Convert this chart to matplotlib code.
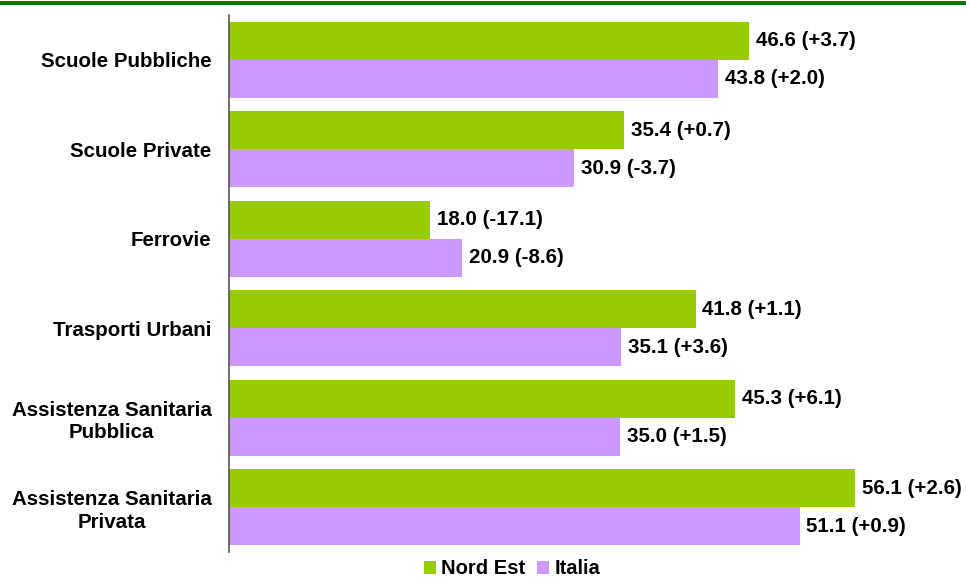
import numpy as np
import matplotlib.pyplot as plt
from matplotlib.patches import Rectangle

plt.rcParams['font.family'] = ['Liberation Sans', 'DejaVu Sans']

categorie = ['Scuole Pubbliche', 'Scuole Private', 'Ferrovie', 'Trasporti Urbani',
             'Assistenza Sanitaria\nPubblica', 'Assistenza Sanitaria\nPrivata']
nord_est = [46.6, 35.4, 18.0, 41.8, 45.3, 56.1]
nord_est_var = ['+3.7', '+0.7', '-17.1', '+1.1', '+6.1', '+2.6']
italia = [43.8, 30.9, 20.9, 35.1, 35.0, 51.1]
italia_var = ['+2.0', '-3.7', '-8.6', '+3.6', '+1.5', '+0.9']

fig = plt.figure(figsize=(9.66, 5.78), dpi=100)
ax = fig.add_axes([229 / 966, 26 / 578, 1 - 229 / 966, 537 / 578])

# banda verde in alto
fig.add_artist(Rectangle((0, 1 - 5 / 578), 1, 4 / 578, transform=fig.transFigure,
                         color='#007A00', lw=0))

y = np.arange(len(categorie))
h = 0.425
b1 = ax.barh(y - h / 2, nord_est, height=h, color='#99CC00', label='Nord Est')
b2 = ax.barh(y + h / 2, italia, height=h, color='#CC99FF', label='Italia')

for v, d, yy in zip(nord_est, nord_est_var, y - h / 2):
    ax.text(v + 0.6, yy, '%.1f (%s)' % (v, d), va='center', ha='left',
            fontsize=14.8, fontweight='bold')
for v, d, yy in zip(italia, italia_var, y + h / 2):
    ax.text(v + 0.6, yy, '%.1f (%s)' % (v, d), va='center', ha='left',
            fontsize=14.8, fontweight='bold')

ax.set_yticks(y)
ax.set_yticklabels(categorie, fontsize=14.8, fontweight='bold', ha='right',
                   multialignment='center', linespacing=1.25)
ax.set_ylim(len(categorie) - 0.5, -0.5)
ax.set_xlim(0, 66)
ax.set_xticks([])
ax.tick_params(axis='y', length=0, pad=12.5)
for s in ['top', 'right', 'bottom']:
    ax.spines[s].set_visible(False)
ax.spines['left'].set_color('#555555')
ax.spines['left'].set_linewidth(1.2)

fig.legend(handles=[b1, b2], loc='center', bbox_to_anchor=(512 / 966, 1 - 569 / 578),
           ncol=2, frameon=False, prop={'weight': 'bold', 'size': 14.5},
           handlelength=0.6, handleheight=0.6, handletextpad=0.25, columnspacing=0.6)

fig.savefig('out.png', dpi=100)
